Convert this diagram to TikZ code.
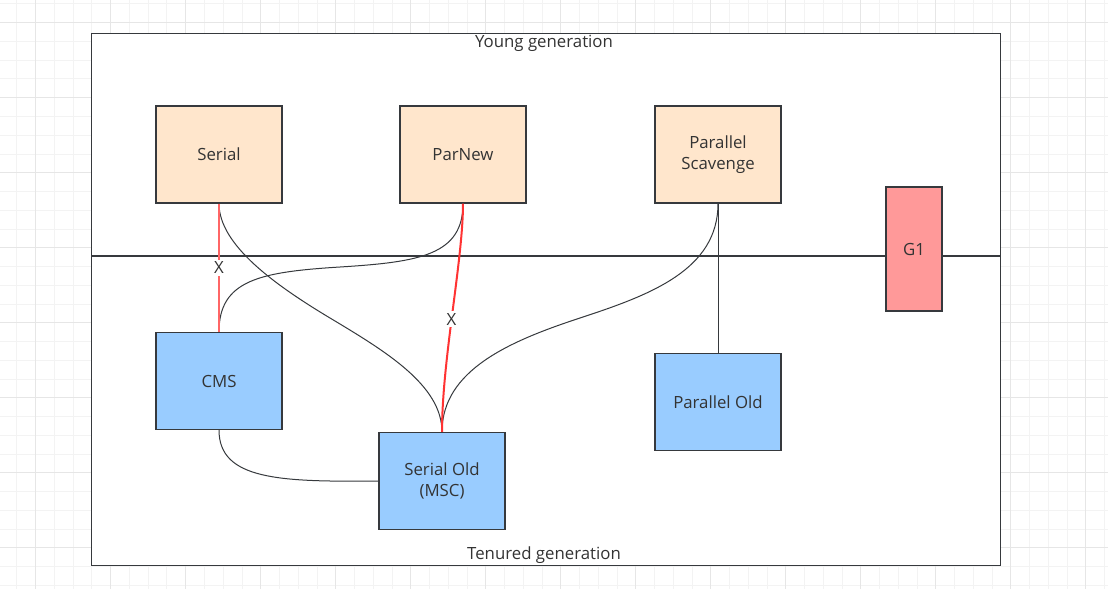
\documentclass[tikz,border=0pt]{standalone}
\usepackage{fontspec}
\setmainfont{Open Sans}
\definecolor{peach}{HTML}{FFE6CC}
\definecolor{skyb}{HTML}{99CCFF}
\definecolor{pinkr}{HTML}{FF9999}
\definecolor{linec}{HTML}{36393D}
\definecolor{txtc}{HTML}{333333}
\definecolor{redA}{HTML}{FF6666}
\definecolor{redB}{HTML}{FF3333}
\definecolor{gridminor}{HTML}{F3F3F3}
\definecolor{gridmajor}{HTML}{E6E6E6}
\begin{document}
\begin{tikzpicture}[x=0.75pt,y=-0.75pt,
  every node/.style={font=\fontsize{12.6}{16}\selectfont, text=txtc},
  gbox/.style={draw=linec, line width=0.8pt, minimum width=94.5pt, minimum height=72.75pt, align=center, inner sep=0pt},
  peachbox/.style={gbox, fill=peach},
  bluebox/.style={gbox, fill=skyb},
  conn/.style={draw=linec, line width=0.75pt},
  redconn/.style={line width=1.5pt},
  xlab/.style={fill=white, inner sep=1.5pt},
  gminor/.style={draw=gridminor, line width=0.75pt},
  gmajor/.style={draw=gridmajor, line width=0.75pt}
]
\useasboundingbox (0,0) rectangle (1108,589);
\fill[white] (0,0) rectangle (1108,589);
% grid
\foreach \k in {0,...,58} \draw[gminor] ({16.95+\k*18.755},0) -- ++(0,589);
\foreach \k in {0,...,31} \draw[gminor] (0,{3.94+\k*18.76}) -- ++(1108,0);
\foreach \k in {0,...,14} \draw[gmajor] ({35.7+4*\k*18.755},0) -- ++(0,589);
\foreach \k in {0,...,7} \draw[gmajor] (0,{22.7+4*\k*18.76}) -- ++(1108,0);
% frame
\node[draw=linec, line width=0.9pt, fill=white, minimum width=681.75pt, minimum height=399pt, anchor=north west, inner sep=0pt] (frame) at (91,33) {};
\coordinate (dl) at (91,256);
\coordinate (dr) at (1000,256);
\draw[draw=linec, line width=0.9pt] (dl) -- (dr);
\node (yg) at (544,43) {Young generation};
\node (tg) at (544,555) {Tenured generation};
% boxes
\node[peachbox] (serial) at (219,154.5) {Serial};
\node[peachbox] (parnew) at (463,154.5) {ParNew};
\node[peachbox] (ps) at (718,154.5) {Parallel\\Scavenge};
\node[bluebox] (cms) at (219,381) {CMS};
\node[bluebox] (sold) at (442,481) {Serial Old\\(MSC)};
\node[bluebox] (pold) at (718,402) {Parallel Old};
\node[draw=linec, line width=0.8pt, fill=pinkr, minimum width=42pt, minimum height=93pt, inner sep=0pt] (g1) at (914,249) {G1};
% connectors
\draw[conn] (serial.south) .. controls (219,245) and (275,285) .. (330,318)
  .. controls (385,351) and (442,385) .. (sold.north);
\draw[conn] (parnew.south) .. controls (463,255) and (420,262) .. (340,267)
  .. controls (260,272) and (219,280) .. (cms.north);
\draw[conn] (ps.south) .. controls (718,270) and (650,295) .. (580,318)
  .. controls (510,341) and (442,370) .. (sold.north);
\draw[conn, line width=0.65pt] (ps.south) -- (pold.north);
\draw[conn] (cms.south) .. controls (219,480) and (280,482) .. (sold.west);
\draw[redconn, draw=redA] (serial.south) -- node[xlab] {X} (cms.north);
\draw[redconn, draw=redB] (parnew.south) .. controls (463,260) and (442,360) .. node[xlab, pos=0.53] {X} (sold.north);
\end{tikzpicture}
\end{document}
